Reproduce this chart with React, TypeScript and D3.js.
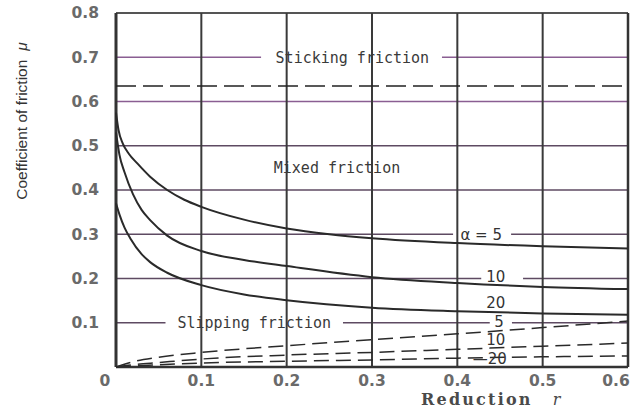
import React from "react";
import * as d3 from "d3";

const W = 640;
const H = 412;

const xTicks = [0.1, 0.2, 0.3, 0.4, 0.5, 0.6];
const xTickLabels = ["0.1", "0.2", "0.3", "0.4", "0.5", "0.6"];
const yTicks = [0.1, 0.2, 0.3, 0.4, 0.5, 0.6, 0.7, 0.8];
const yTickLabels = ["0.1", "0.2", "0.3", "0.4", "0.5", "0.6", "0.7", "0.8"];

// solid curves: alpha = 5, 10, 20
const rSolid5 = [0, 0.003, 0.008, 0.015, 0.025, 0.04, 0.06, 0.08, 0.1, 0.15, 0.2, 0.25, 0.3, 0.4, 0.5, 0.6];
const mu5 = [0.575, 0.535, 0.505, 0.482, 0.46, 0.43, 0.4, 0.378, 0.362, 0.333, 0.313, 0.3, 0.291, 0.28, 0.273, 0.268];
const rSolid10 = [0, 0.004, 0.01, 0.02, 0.03, 0.04, 0.06, 0.1, 0.15, 0.2, 0.3, 0.4, 0.5, 0.6];
const mu10 = [0.53, 0.48, 0.44, 0.39, 0.355, 0.332, 0.297, 0.262, 0.242, 0.228, 0.203, 0.19, 0.181, 0.176];
const rSolid20 = [0, 0.004, 0.01, 0.017, 0.03, 0.04, 0.06, 0.1, 0.15, 0.2, 0.3, 0.4, 0.5, 0.6];
const mu20 = [0.37, 0.345, 0.315, 0.29, 0.255, 0.237, 0.213, 0.185, 0.164, 0.151, 0.134, 0.126, 0.121, 0.118];

// dashed slipping curves: alpha = 5, 10, 20
const rDashed = [0, 0.02, 0.05, 0.1, 0.2, 0.3, 0.4, 0.5, 0.6];
const slip5 = [0, 0.012, 0.022, 0.033, 0.048, 0.062, 0.075, 0.089, 0.104];
const slip10 = [0, 0.005, 0.01, 0.018, 0.027, 0.033, 0.04, 0.047, 0.054];
const slip20 = [0, 0.002, 0.005, 0.009, 0.013, 0.016, 0.02, 0.023, 0.025];

const stickingLimit = 0.635;

// horizontal grid segments with gaps for labels: [value, [from, to] ...]
const hGrid: [number, [number, number][]][] = [
  [0.7, [[0, 0.17], [0.382, 0.6]]],
  [0.6, [[0, 0.6]]],
  [0.5, [[0, 0.6]]],
  [0.4, [[0, 0.6]]],
  [0.3, [[0, 0.395], [0.463, 0.6]]],
  [0.2, [[0, 0.428], [0.477, 0.6]]],
  [0.1, [[0, 0.058], [0.266, 0.438], [0.464, 0.6]]],
];

const regionLabels = [
  { text: "Sticking friction", r: 0.277, mu: 0.7 },
  { text: "Mixed friction", r: 0.259, mu: 0.45 },
  { text: "Slipping friction", r: 0.162, mu: 0.1 },
];

const curveLabels = [
  { text: "α = 5", r: 0.428, mu: 0.3 },
  { text: "10", r: 0.445, mu: 0.205 },
  { text: "20", r: 0.445, mu: 0.145 },
  { text: "5", r: 0.449, mu: 0.102 },
  { text: "10", r: 0.445, mu: 0.061 },
  { text: "—20", r: 0.438, mu: 0.018 },
];

export default function App() {
  const x = d3.scaleLinear().domain([0, 0.6]).range([116, 628]);
  const y = d3.scaleLinear().domain([0, 0.8]).range([367, 13]);

  const line = d3
    .line<[number, number]>()
    .x((d) => x(d[0]))
    .y((d) => y(d[1]))
    .curve(d3.curveMonotoneX);

  const zip = (a: number[], b: number[]) => a.map((v, i) => [v, b[i]] as [number, number]);

  const solids = [zip(rSolid5, mu5), zip(rSolid10, mu10), zip(rSolid20, mu20)];
  const dashes = [zip(rDashed, slip5), zip(rDashed, slip10), zip(rDashed, slip20)];

  const monoFont = "'DejaVu Sans Mono', monospace";
  const tickFont = "'DejaVu Sans', sans-serif";

  return (
    <svg
      width={W}
      height={H}
      style={{ position: "absolute", left: 0, top: 0, background: "#fff" }}
    >
      <rect x={0} y={0} width={W} height={H} fill="#fff" />

      {/* horizontal grid */}
      {hGrid.map(([v, segs], i) =>
        segs.map((s, j) => (
          <line
            key={`h${i}-${j}`}
            x1={x(s[0])}
            x2={x(s[1])}
            y1={y(v)}
            y2={y(v)}
            stroke={v === 0.7 || v === 0.6 ? "#8a5e92" : "#5e4a62"}
            strokeWidth={1.3}
          />
        ))
      )}

      {/* top border */}
      <line x1={x(0)} x2={x(0.6)} y1={y(0.8)} y2={y(0.8)} stroke="#555" strokeWidth={2} />

      {/* vertical grid */}
      {xTicks.slice(0, 5).map((v) => (
        <line
          key={`v${v}`}
          x1={x(v)}
          x2={x(v)}
          y1={y(0.8)}
          y2={y(0)}
          stroke="#3a3a3a"
          strokeWidth={2}
        />
      ))}

      {/* frame */}
      <line x1={x(0)} x2={x(0)} y1={y(0.8)} y2={y(0)} stroke="#333" strokeWidth={3} />
      <line x1={x(0.6)} x2={x(0.6)} y1={y(0.8)} y2={y(0)} stroke="#333" strokeWidth={2.5} />
      <line x1={x(0)} x2={x(0.6)} y1={y(0)} y2={y(0)} stroke="#333" strokeWidth={2.5} />

      {/* sticking limit */}
      <line
        x1={x(0)}
        x2={x(0.6)}
        y1={y(stickingLimit)}
        y2={y(stickingLimit)}
        stroke="#222"
        strokeWidth={1.4}
        strokeDasharray="20,7"
      />

      {/* curves */}
      {solids.map((d, i) => (
        <path key={`s${i}`} d={line(d) || ""} fill="none" stroke="#2a2a2a" strokeWidth={2} />
      ))}
      {dashes.map((d, i) => (
        <path
          key={`d${i}`}
          d={line(d) || ""}
          fill="none"
          stroke="#2a2a2a"
          strokeWidth={1.5}
          strokeDasharray="15,7"
        />
      ))}

      {/* region labels */}
      {regionLabels.map((l) => (
        <text
          key={l.text}
          x={x(l.r)}
          y={y(l.mu)}
          dy="0.35em"
          textAnchor="middle"
          fontFamily={monoFont}
          fontSize={15}
          fill="#3a3a3a"
        >
          {l.text}
        </text>
      ))}

      {/* curve labels */}
      {curveLabels.map((l, i) => (
        <text
          key={`c${i}`}
          x={x(l.r)}
          y={y(l.mu)}
          dy="0.35em"
          textAnchor="middle"
          fontFamily="'DejaVu Sans', sans-serif"
          fontSize={15}
          fill="#333"
        >
          {l.text}
        </text>
      ))}

      {/* y tick labels */}
      {yTicks.map((v, i) => (
        <text
          key={`yt${v}`}
          x={99}
          y={y(v)}
          dy="0.35em"
          textAnchor="end"
          fontFamily={tickFont}
          fontWeight="bold"
          fontSize={15.5}
          fill="#6a6a6a"
        >
          {yTickLabels[i]}
        </text>
      ))}
      <text
        x={x(0) - 11}
        y={381}
        dy="0.35em"
        textAnchor="middle"
        fontFamily={tickFont}
        fontWeight="bold"
        fontSize={15.5}
        fill="#6a6a6a"
      >
        0
      </text>

      {/* x tick labels */}
      {xTicks.map((v, i) => (
        <text
          key={`xt${v}`}
          x={x(v) - (v === 0.6 ? 12 : 0)}
          y={381}
          dy="0.35em"
          textAnchor="middle"
          fontFamily={tickFont}
          fontWeight="bold"
          fontSize={15.5}
          fill="#6a6a6a"
        >
          {xTickLabels[i]}
        </text>
      ))}

      {/* axis titles */}
      <text
        x={421}
        y={405}
        fontFamily="'DejaVu Serif', serif"
        fontWeight="bold"
        fontSize={16}
        letterSpacing={2.2}
        fill="#4a4a4a"
      >
        Reduction
        <tspan dx={20} fontStyle="italic" fontWeight="normal" letterSpacing={0}>
          r
        </tspan>
      </text>
      <text
        transform={`translate(27, ${y(0.556)}) rotate(-90)`}
        textAnchor="middle"
        fontFamily="'Liberation Sans Narrow', 'Liberation Sans', sans-serif"
        fontSize={15.5}
        fill="#333"
      >
        Coefficient of friction
        <tspan dx={9} fontStyle="italic">
          μ
        </tspan>
      </text>
    </svg>
  );
}
